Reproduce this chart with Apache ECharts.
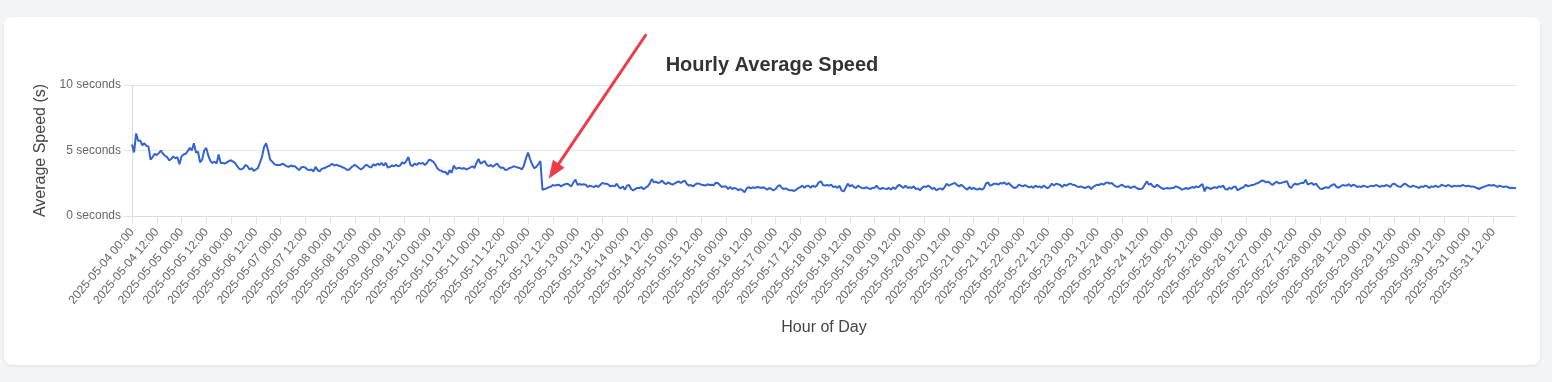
<!DOCTYPE html>
<html>
<head>
<meta charset="utf-8">
<script src="https://cdn.jsdelivr.net/npm/echarts@6/dist/echarts.min.js"></script>
<style>
  html, body { margin: 0; padding: 0; background: #f3f4f6; width: 1552px; height: 382px; overflow: hidden; }
  #card { position: absolute; left: 4px; top: 17px; width: 1536px; height: 348px; background: #fff; border-radius: 8px; box-shadow: 0 1px 3px rgba(0,0,0,0.08); }
  #chart { position: absolute; left: 0; top: 0; width: 1536px; height: 348px; }
</style>
</head>
<body>
<div id="card"><div id="chart"></div></div>
<script>
// ---- data ----
const startDate = '2025-05-04';   // first hourly category (00:00)
const hourCount = 672;            // 2025-05-04 00:00 .. 2025-05-31 23:00
const yTicks = [0, 5, 10];

const week1 = [
  5.45,4.85,6.3,5.75,5.75,5.4,5.55,5.35,5.3,4.3,4.5,4.75,4.65,4.8,5.0,4.75,4.6,4.5,4.25,4.35,4.55,4.4,4.5,3.95,
  4.55,4.7,4.75,4.95,5.2,5.0,5.55,4.85,4.9,4.1,4.3,5.0,5.2,4.6,4.2,4.05,4.15,4.0,4.7,4.05,4.05,4.0,4.1,4.2,
  4.25,4.15,4.05,3.8,3.6,3.55,3.65,3.9,3.8,3.55,3.65,3.45,3.55,3.65,4.05,4.5,5.25,5.55,5.0,4.3,4.15,3.95,3.9,3.9,
  3.9,4.0,3.9,3.8,3.75,3.85,3.8,3.8,3.65,3.5,3.7,3.75,3.7,3.55,3.5,3.55,3.4,3.75,3.5,3.4,3.6,3.65,3.7,3.8,
  3.85,4.0,3.85,3.9,3.85,3.8,3.72,3.66,3.55,3.5,3.66,3.8,3.9,3.8,3.66,3.55,3.66,3.85,3.9,3.75,3.7,3.95,3.85,4.0,
  3.9,4.05,3.85,4.05,3.7,3.75,3.85,3.8,3.9,3.8,3.85,4.1,4.0,4.2,4.5,3.9,3.8,4.0,3.9,4.05,4.0,4.05,3.9,4.05,
  4.3,4.25,4.15,3.95,3.65,3.5,3.45,3.35,3.35,3.15,3.5,3.3,3.85,3.6,3.66,3.66,3.6,3.66,3.55,3.62,3.7,3.8,3.66,4.05
];
const week2 = [
  4.35,4.0,4.1,4.2,3.9,3.8,3.9,3.75,3.9,4.0,3.8,3.66,3.7,3.5,3.55,3.66,3.7,3.8,3.75,3.7,3.66,3.55,3.85,4.4,
  4.85,4.35,3.95,3.65,3.75,3.95,4.2,2.0,2.06,2.11,2.19,2.24,2.37,2.32,2.37,2.39,2.26,2.37,2.42,2.47,2.37,2.26,2.57,2.77,
  2.37,2.44,2.39,2.42,2.39,2.21,2.32,2.26,2.21,2.32,2.21,2.37,2.52,2.47,2.47,2.39,2.26,2.32,2.26,2.47,2.21,2.11,2.26,2.01,
  2.32,2.37,2.06,1.96,2.06,2.14,2.14,2.21,2.04,2.16,2.26,2.47,2.82,2.57,2.62,2.52,2.57,2.70,2.52,2.44,2.57,2.47,2.39,2.47,
  2.57,2.65,2.52,2.62,2.70,2.44,2.32,2.37,2.26,2.39,2.49,2.47,2.39,2.37,2.32,2.42,2.37,2.39,2.34,2.54,2.52,2.37,2.21,2.26,
  2.26,2.06,2.21,2.06,2.14,2.09,1.96,2.06,1.96,1.81,2.11,2.21,2.11,2.19,2.14,2.21,2.19,2.14,2.21,2.11,2.01,2.14,2.06,1.96,
  2.06,2.26,2.37,2.14,2.06,2.11,2.01,1.96,1.96,1.91,2.01,2.14,2.19,2.32,2.16,2.29,2.32,2.14,2.32,2.21,2.32,2.57,2.65,2.37
];
const week3 = [
  2.32,2.37,2.32,2.39,2.21,2.26,2.14,2.32,1.96,1.88,2.14,2.47,2.26,2.37,2.21,2.14,2.32,2.21,2.14,2.11,2.21,2.11,2.06,2.14,
  2.16,2.32,2.11,2.06,2.14,2.09,2.06,2.14,2.01,2.19,2.06,2.26,2.39,2.26,2.14,2.32,2.14,2.21,2.14,2.26,2.06,2.11,1.96,2.14,
  2.26,2.21,2.32,2.21,2.06,2.14,1.96,2.06,2.11,2.01,2.21,2.47,2.32,2.39,2.47,2.52,2.37,2.26,2.39,2.26,2.11,2.01,2.21,2.06,
  2.14,2.06,2.01,2.11,2.01,2.11,2.47,2.57,2.32,2.37,2.47,2.47,2.39,2.52,2.47,2.57,2.39,2.52,2.37,2.21,2.14,2.21,2.39,2.32,
  2.26,2.37,2.26,2.19,2.26,2.14,2.32,2.21,2.26,2.14,2.32,2.21,2.11,2.26,2.47,2.32,2.47,2.42,2.37,2.21,2.39,2.32,2.42,2.47,
  2.39,2.37,2.26,2.21,2.26,2.19,2.14,2.21,2.26,2.06,2.21,2.32,2.39,2.37,2.47,2.39,2.52,2.57,2.47,2.52,2.37,2.26,2.21,2.32,
  2.39,2.26,2.21,2.26,2.14,2.21,2.26,2.14,2.06,2.06,2.11,2.39,2.65,2.39,2.47,2.26,2.21,2.39,2.26,2.14,2.06,2.11,2.14,2.09
];
const week4 = [
  2.14,2.14,2.26,2.21,2.14,2.01,2.06,2.14,2.06,2.14,2.21,2.16,2.26,2.19,2.32,2.44,1.88,2.21,2.14,2.06,2.14,2.21,2.14,2.26,
  2.21,2.32,2.06,2.01,2.16,2.06,2.21,2.26,1.96,2.06,2.14,2.21,2.39,2.26,2.32,2.37,2.39,2.47,2.52,2.62,2.72,2.65,2.57,2.62,
  2.47,2.37,2.52,2.62,2.49,2.52,2.57,2.62,2.65,2.26,2.14,2.37,2.47,2.39,2.47,2.52,2.52,2.77,2.39,2.47,2.52,2.37,2.47,2.26,
  2.09,2.06,2.14,2.21,2.14,2.26,2.39,2.42,2.21,2.16,2.26,2.37,2.32,2.32,2.44,2.26,2.39,2.34,2.21,2.26,2.21,2.32,2.26,2.21,
  2.26,2.32,2.26,2.37,2.32,2.21,2.32,2.26,2.37,2.32,2.21,2.42,2.47,2.34,2.26,2.21,2.34,2.47,2.39,2.26,2.21,2.32,2.26,2.21,
  2.14,2.26,2.21,2.32,2.26,2.14,2.26,2.21,2.32,2.21,2.26,2.39,2.32,2.26,2.37,2.32,2.21,2.32,2.26,2.32,2.26,2.37,2.32,2.26,
  2.32,2.24,2.26,2.21,2.14,2.06,2.14,2.21,2.26,2.32,2.37,2.32,2.37,2.32,2.21,2.32,2.26,2.21,2.26,2.21,2.14,2.16,2.14,2.11
];

// annotation arrow: [category index, value] for tail and tip
const arrowTail = [249, 13.8];
const arrowTip = [202, 2.85];

// ---- build ----
function pad(n) { return (n < 10 ? '0' : '') + n; }
const categories = [];
(function () {
  const p = startDate.split('-').map(Number);
  for (let i = 0; i < hourCount; i++) {
    const d = new Date(Date.UTC(p[0], p[1] - 1, p[2], i));
    categories.push(d.getUTCFullYear() + '-' + pad(d.getUTCMonth() + 1) + '-' + pad(d.getUTCDate()) + ' ' + pad(d.getUTCHours()) + ':00');
  }
})();
const speed = week1.concat(week2, week3, week4);

const FONT = "'Helvetica Neue', Helvetica, Arial, 'Liberation Sans', sans-serif";
const chart = echarts.init(document.getElementById('chart'), null, { renderer: 'canvas' });
chart.setOption({
  animation: false,
  textStyle: { fontFamily: FONT },
  title: {
    text: 'Hourly Average Speed', left: 'center', top: 33,
    textStyle: { fontFamily: FONT, fontSize: 20, fontWeight: 'bold', color: '#333' }
  },
  grid: { left: 128, right: 24, top: 68, height: 131, containLabel: false },
  xAxis: {
    type: 'category', data: categories, boundaryGap: false,
    name: 'Hour of Day', nameLocation: 'middle', nameGap: 104,
    nameTextStyle: { fontFamily: FONT, fontSize: 16, color: '#444' },
    axisLine: { show: true, lineStyle: { color: '#dcdcdc', width: 1 } },
    axisTick: { show: true, interval: 11, length: 8, lineStyle: { color: '#e3e3e3' } },
    axisLabel: { interval: 11, rotate: 50, fontSize: 12, color: '#666', margin: 14, fontFamily: FONT },
    splitLine: { show: false }
  },
  yAxis: {
    type: 'value', min: yTicks[0], max: yTicks[yTicks.length - 1], interval: yTicks[1] - yTicks[0],
    name: 'Average Speed (s)', nameLocation: 'middle', nameGap: 78,
    nameTextStyle: { fontFamily: FONT, fontSize: 16, color: '#444' },
    axisLine: { show: true, lineStyle: { color: '#dcdcdc', width: 1 } },
    axisTick: { show: true, length: 8, lineStyle: { color: '#e3e3e3' } },
    axisLabel: { formatter: '{value} seconds', fontSize: 12, color: '#666', margin: 11, fontFamily: FONT },
    splitLine: { show: true, lineStyle: { color: '#e6e6e6', width: 1 } }
  },
  series: [{
    type: 'line', data: speed, showSymbol: false, symbol: 'none',
    lineStyle: { color: '#3363d3', width: 2 },
    itemStyle: { color: '#3363d3' }
  }]
});

function drawArrow() {
  const a = chart.convertToPixel({ gridIndex: 0 }, arrowTail);
  const b = chart.convertToPixel({ gridIndex: 0 }, arrowTip);
  const dx = b[0] - a[0], dy = b[1] - a[1];
  const len = Math.sqrt(dx * dx + dy * dy);
  const ux = dx / len, uy = dy / len;
  const headLen = 18, headHalf = 7;
  const bx = b[0] - ux * headLen, by = b[1] - uy * headLen;
  const px = -uy, py = ux;
  chart.setOption({
    graphic: [
      { type: 'line', silent: true, z: 100,
        shape: { x1: a[0], y1: a[1], x2: bx + ux * 2, y2: by + uy * 2 },
        style: { stroke: '#ef3a4a', lineWidth: 3, lineCap: 'round' } },
      { type: 'polygon', silent: true, z: 100,
        shape: { points: [[b[0], b[1]], [bx + px * headHalf, by + py * headHalf], [bx - px * headHalf, by - py * headHalf]] },
        style: { fill: '#ef3a4a' } }
    ]
  });
}
drawArrow();
</script>
</body>
</html>
